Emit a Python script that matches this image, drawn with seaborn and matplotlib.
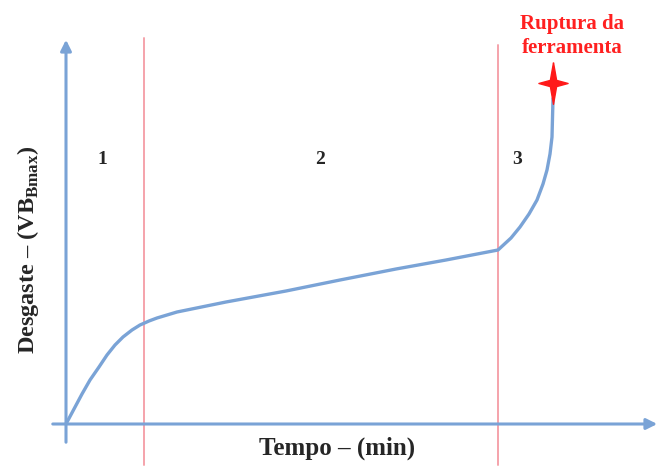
import matplotlib.pyplot as plt
import seaborn as sns
import pandas as pd

# wear curve (time units, wear units)
tempo = [0, 8, 16, 24, 33, 41, 49, 57, 66, 74, 83, 91, 101, 111, 160, 220, 274, 330, 380, 432,
         445, 454, 463, 471, 477, 481, 484, 486, 487, 487]
desgaste = [0, 15, 30, 44, 57, 69, 79, 87, 94, 99, 103, 106, 109, 112, 122, 133, 144, 155, 164, 174,
            186, 197, 210, 224, 240, 254, 270, 287, 315, 336]
fases = ["1", "2", "3"]
fase_t = [36, 254, 451]
limites = [78, 432]

df = pd.DataFrame({"tempo": tempo, "desgaste": desgaste})

sns.set_style("white")
plt.rcParams["font.family"] = ["Liberation Serif", "DejaVu Serif"]
plt.rcParams["mathtext.fontset"] = "custom"
plt.rcParams["mathtext.rm"] = "Liberation Serif:bold"

fig = plt.figure(figsize=(6.61, 4.68), dpi=100)
ax = fig.add_axes([0, 0, 1, 1])
ax.set_xlim(-66, 595)
ax.set_ylim(-44, 424)
ax.axis("off")

blue = "#7aa3d6"
red = "#f5a3ab"

# axes with arrows
ax.annotate("", xy=(0, 387), xytext=(0, -21),
            arrowprops=dict(arrowstyle="-|>", color=blue, lw=2.2, mutation_scale=16))
ax.annotate("", xy=(594, 0), xytext=(-16, 0),
            arrowprops=dict(arrowstyle="-|>", color=blue, lw=2.2, mutation_scale=16))

# phase limits
ax.plot([limites[0]] * 2, [-41, 386], color=red, lw=1.4)
ax.plot([limites[1]] * 2, [-41, 379], color=red, lw=1.4)

sns.lineplot(data=df, x="tempo", y="desgaste", sort=False, color=blue, lw=2.4, ax=ax)

star = [(0, 1), (0.15, 0.15), (0.7, 0), (0.15, -0.15), (0, -1), (-0.15, -0.15), (-0.7, 0), (-0.15, 0.15), (0, 1)]
ax.plot(tempo[-1], desgaste[-1] + 5, marker=star, markersize=30, color="#ff1a1a", mec="#ff1a1a")

for f, t in zip(fases, fase_t):
    ax.text(t, 264, f, ha="center", va="center", fontsize=14, fontweight="bold")

ax.text(506, 388, "Ruptura da\nferramenta", ha="center", va="center", color="#ff2020",
        fontsize=15, fontweight="bold", linespacing=1.3)
ax.text(271, -24, "Tempo – (min)", ha="center", va="center", fontsize=18, fontweight="bold")
ax.text(-38, 174, r"Desgaste – (VB$_{\mathregular{Bmax}}$)", ha="center", va="center",
        rotation=90, fontsize=17.5, fontweight="bold")

plt.savefig("out.png")
